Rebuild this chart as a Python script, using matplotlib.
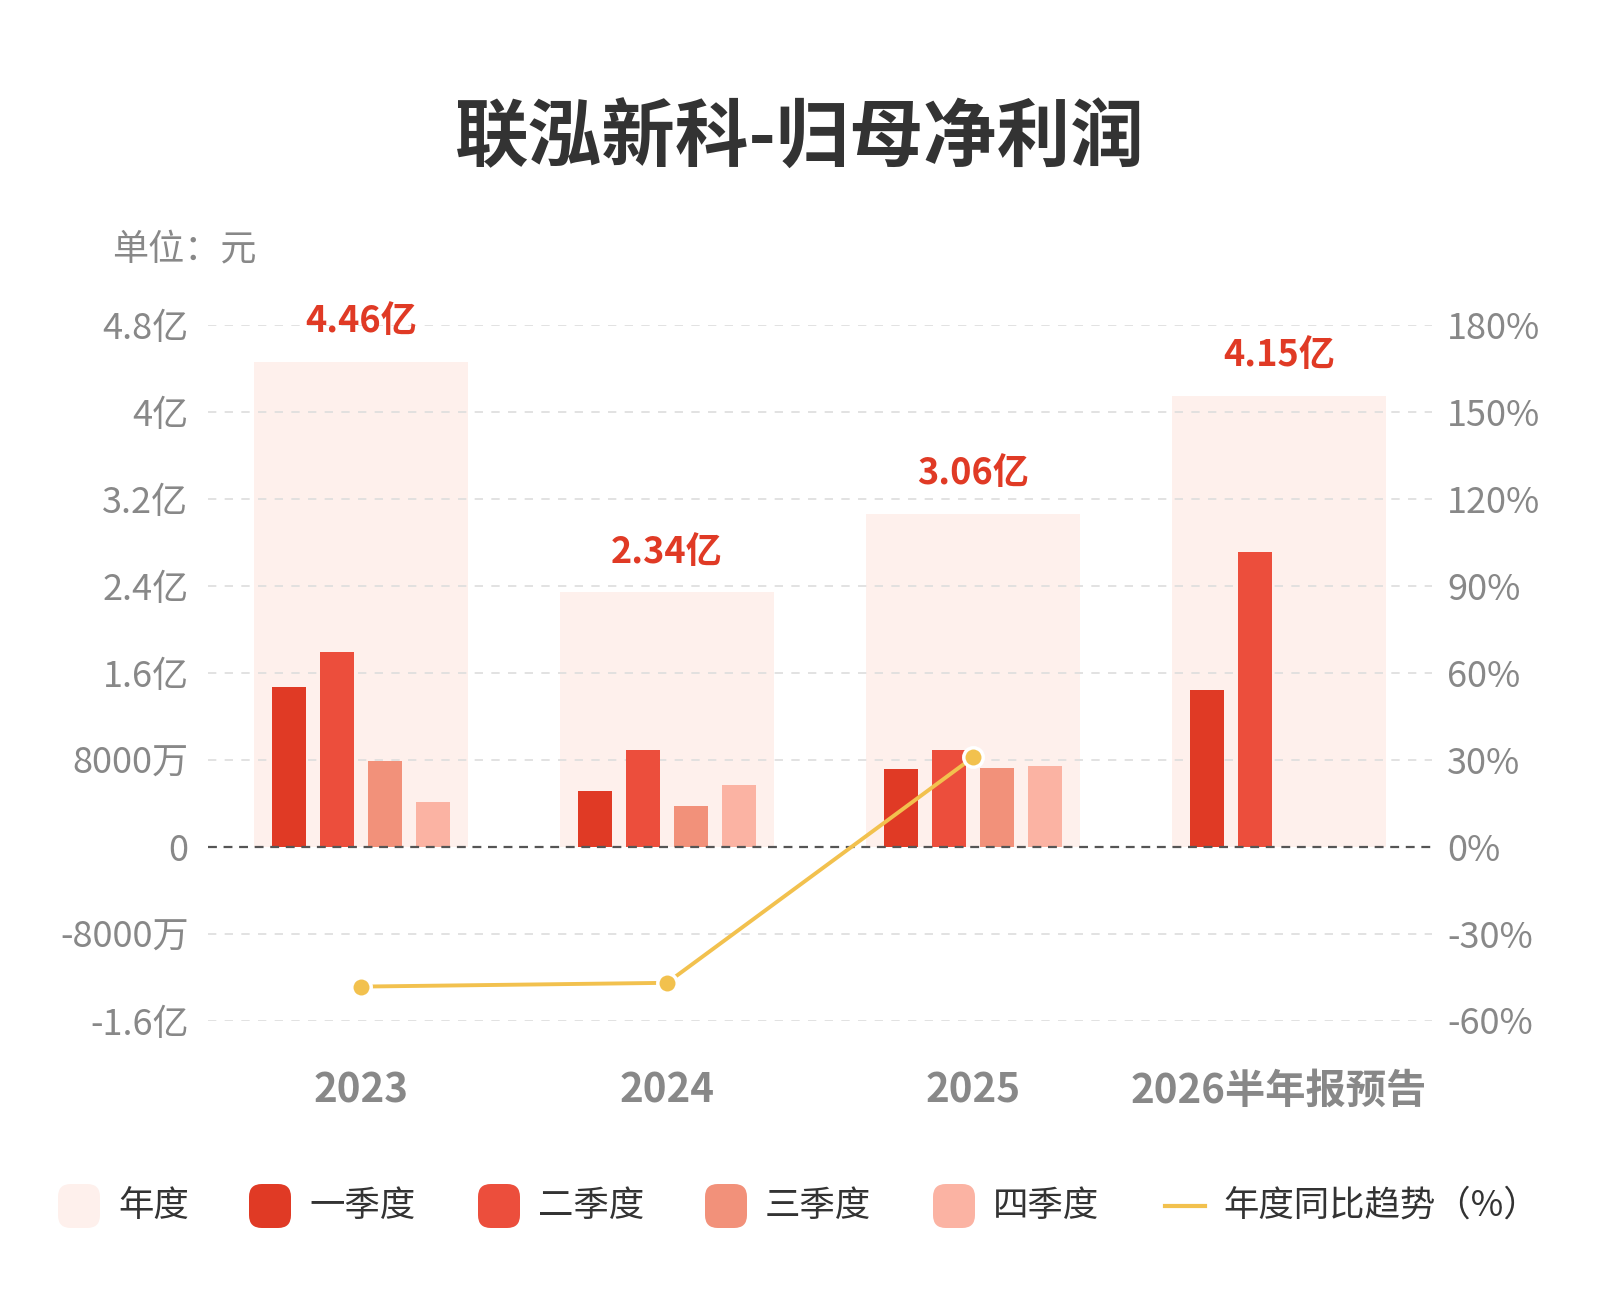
import matplotlib
matplotlib.use("Agg")
import matplotlib.pyplot as plt
from matplotlib.patches import FancyBboxPatch
from matplotlib.lines import Line2D
import numpy as np

plt.rcParams['font.family'] = ['Noto Sans CJK SC', 'DejaVu Sans']

# data (亿元)
categories = ["2023", "2024", "2025", "2026半年报预告"]
annual = [4.46, 2.34, 3.06, 4.15]
annual_labels = ["4.46亿", "2.34亿", "3.06亿", "4.15亿"]
q1 = [1.47, 0.51, 0.71, 1.44]
q2 = [1.79, 0.89, 0.89, 2.71]
q3 = [0.79, 0.37, 0.72, np.nan]
q4 = [0.41, 0.57, 0.74, np.nan]
yoy = [-48.3, -47.0, 30.8]  # %

left_ticks = [-1.6, -0.8, 0, 0.8, 1.6, 2.4, 3.2, 4.0, 4.8]
left_ticklabels = ["-1.6亿", "-8000万", "0", "8000万", "1.6亿", "2.4亿", "3.2亿", "4亿", "4.8亿"]
right_ticks = [-60, -30, 0, 30, 60, 90, 120, 150, 180]

c_year = "#FEF0EC"
c_q = ["#E03A25", "#EC4E3C", "#F2917A", "#FBB3A3"]
c_line = "#F2C14E"
c_tick = "#888888"
c_text = "#333333"

fig = plt.figure(figsize=(16, 13), dpi=100)
ax = fig.add_axes([0.13, 0.215, 0.765, 0.535])
x = np.arange(len(categories))

ax.bar(x, annual, width=0.70, color=c_year, zorder=1)
offsets = [-0.236, -0.079, 0.079, 0.236]
for q, off, col in zip([q1, q2, q3, q4], offsets, c_q):
    ax.bar(x + off, q, width=0.11, color=col, zorder=2)

for xi, v, lab in zip(x, annual, annual_labels):
    ax.annotate(lab, (xi, v), xytext=(0, 29), textcoords="offset points",
                ha="center", va="center", fontsize=26, fontweight="bold",
                color="#E03A25", annotation_clip=False)

ax.set_xlim(-0.5, 3.5)
ax.set_ylim(-1.6, 4.8)
ax.set_yticks(left_ticks)
ax.set_yticklabels(left_ticklabels)
ax.set_xticks(x)
ax.set_xticklabels(categories, fontsize=29, fontweight="bold", color=c_tick)
ax.tick_params(axis="y", length=0, pad=14, labelsize=26, labelcolor=c_tick)
ax.tick_params(axis="x", length=0, pad=36)
for s in ax.spines.values():
    s.set_visible(False)
for t in left_ticks:
    if t == 0:
        ax.axhline(0, color="#555555", lw=1.6, ls=(0, (4, 3)), zorder=3)
    else:
        ax.axhline(t, color="#dddddd", lw=1.2, ls=(0, (5, 5)), zorder=1.5)

ax2 = ax.twinx()
ax2.set_ylim(-60, 180)
ax2.set_yticks(right_ticks)
ax2.set_yticklabels([f"{t}%" for t in right_ticks])
ax2.tick_params(axis="y", length=0, pad=11, labelsize=26, labelcolor=c_tick)
for s in ax2.spines.values():
    s.set_visible(False)
ax2.plot(x[:len(yoy)], yoy, color=c_line, lw=2.8, marker="o", markersize=14,
         markerfacecolor=c_line, markeredgecolor="white", markeredgewidth=2.5, zorder=5)

fig.text(0.5, 0.893, "联泓新科-归母净利润", ha="center", va="center",
         fontsize=53, fontweight="bold", color=c_text)
fig.text(0.07, 0.807, "单位：元", ha="left", va="center", fontsize=26, color=c_tick)

# legend
leg_names = ["年度", "一季度", "二季度", "三季度", "四季度"]
leg_colors = [c_year] + c_q
swatch_x = [58, 249, 478, 705, 933]
ly = 1 - 1206 / 1300
for sx, name, col in zip(swatch_x, leg_names, leg_colors):
    p = FancyBboxPatch((sx / 1600, ly - 22 / 1300), 42 / 1600, 44 / 1300,
                       boxstyle="round,pad=0,rounding_size=0.008",
                       transform=fig.transFigure, facecolor=col, edgecolor="none",
                       mutation_aspect=1600 / 1300)
    fig.add_artist(p)
    fig.text((sx + 60) / 1600, ly, name, ha="left", va="center", fontsize=25.5, color=c_text)
fig.add_artist(Line2D([1165 / 1600, 1205 / 1600], [ly, ly], transform=fig.transFigure,
                      color=c_line, lw=3))
fig.text(1223 / 1600, ly, "年度同比趋势（%）", ha="left", va="center", fontsize=25.5, color=c_text)

fig.savefig("out.png", dpi=100)
